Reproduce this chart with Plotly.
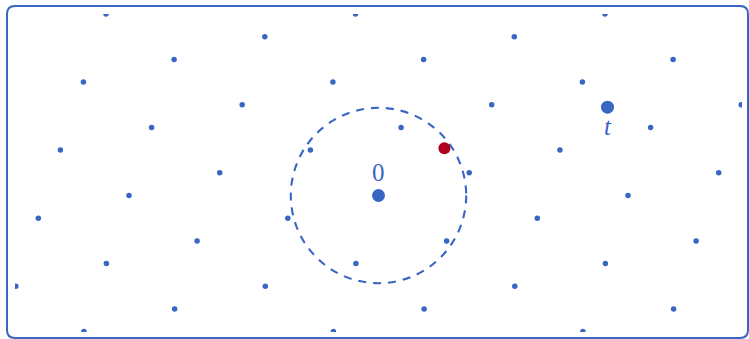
import plotly.graph_objects as go

# Lattice points (data units, origin at the point labelled 0)
lattice_x = [
    -294.6, -45.1, 204.4,
    -203.9, 45.6, 295.1,
    -362.7, -113.2, 136.3,
    -272.1, -22.6, 226.9,
    -181.4, 68.1, 317.6,
    -340.2, -90.7, 158.8,
    -249.5, 0.0, 249.5,
    -158.8, 90.7, 340.2,
    -318.1, -68.1, 181.4,
    -226.9, 22.6, 272.1,
    -136.3, 113.2, 362.7,
    -295.1, -45.6, 203.9,
    -204.4, 45.1, 294.6,
    -113.7, 135.8,
    -272.5, -23.0, 226.5,
]
lattice_y = [
    -136.1, -136.1, -136.1,
    -113.4, -113.4, -113.4,
    -90.7, -90.7, -90.7,
    -68.1, -68.1, -68.1,
    -45.4, -45.4, -45.4,
    -22.7, -22.7, -22.7,
    0.0, 0.0, 0.0,
    22.7, 22.7, 22.7,
    45.4, 45.4, 45.4,
    68.1, 68.1, 68.1,
    90.7, 90.7, 90.7,
    113.4, 113.4, 113.4,
    136.1, 136.1, 136.1,
    158.8, 158.8,
    181.5, 181.5, 181.5,
]

origin_xy = [0.0, 0.0]
target_xy = [229.0, 88.3]
closest_xy = [65.9, 47.3]
circle_radius = 87.7

labels = ["0", "<i>t</i>"]
label_x = [0.0, 229.0]
label_y = [22.8, 69.3]

BLUE = "#3966c2"
RED = "#b0001f"

fig = go.Figure()
fig.add_trace(go.Scatter(x=lattice_x, y=lattice_y, mode="markers",
                         marker=dict(size=5.5, color=BLUE, line=dict(width=0)),
                         hoverinfo="skip"))
fig.add_trace(go.Scatter(x=[origin_xy[0], target_xy[0]], y=[origin_xy[1], target_xy[1]],
                         mode="markers",
                         marker=dict(size=13, color=BLUE, line=dict(width=0)),
                         hoverinfo="skip"))
fig.add_trace(go.Scatter(x=[closest_xy[0]], y=[closest_xy[1]], mode="markers",
                         marker=dict(size=12, color=RED, line=dict(width=0)),
                         hoverinfo="skip"))

fig.add_shape(type="circle", xref="x", yref="y",
              x0=origin_xy[0] - circle_radius, x1=origin_xy[0] + circle_radius,
              y0=origin_xy[1] - circle_radius, y1=origin_xy[1] + circle_radius,
              line=dict(color=BLUE, width=2.1, dash="8px,7px"), layer="below")

for txt, lx, ly in zip(labels, label_x, label_y):
    fig.add_annotation(x=lx, y=ly, xref="x", yref="y", text=txt, showarrow=False,
                       font=dict(family="Liberation Serif", size=25, color=BLUE),
                       xanchor="center", yanchor="middle")

# Rounded frame (paper coordinates; plot area spans px x 15..742, y 14..332)
W, H = 727.0, 318.0
def px(x):
    return (x - 15) / W
def py(y):
    return (332 - y) / H
xl, xr, yt, yb = px(7), px(748), py(6), py(338)
rx, ry = 8 / W, 8 / H
path = (f"M {xl+rx},{yb} L {xr-rx},{yb} Q {xr},{yb} {xr},{yb+ry} "
        f"L {xr},{yt-ry} Q {xr},{yt} {xr-rx},{yt} "
        f"L {xl+rx},{yt} Q {xl},{yt} {xl},{yt-ry} "
        f"L {xl},{yb+ry} Q {xl},{yb} {xl+rx},{yb} Z")
fig.add_shape(type="path", xref="paper", yref="paper", path=path,
              line=dict(color=BLUE, width=2))

fig.update_layout(
    width=749, height=339, autosize=False,
    margin=dict(l=15, r=7, t=14, b=7, pad=0),
    paper_bgcolor="white", plot_bgcolor="white",
    showlegend=False, hovermode=False,
    xaxis=dict(range=[-363.5, 363.5], visible=False, fixedrange=True),
    yaxis=dict(range=[-136.5, 181.5], visible=False, fixedrange=True),
)

fig.write_html("out.html", config={"displayModeBar": False})
